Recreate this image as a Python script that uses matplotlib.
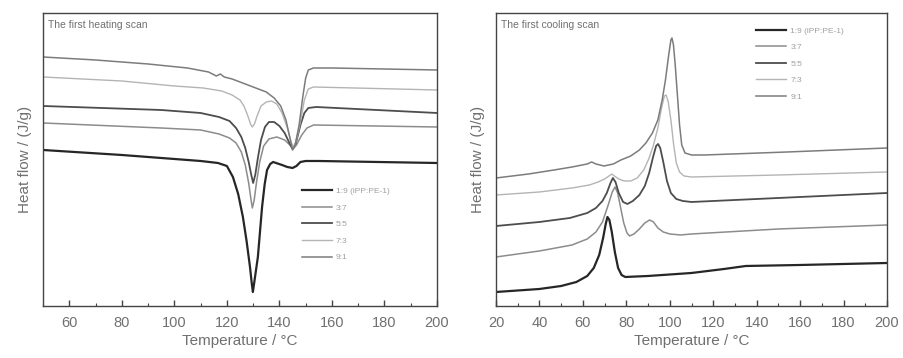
import matplotlib
matplotlib.use("Agg")
import matplotlib.pyplot as plt
from matplotlib.ticker import MultipleLocator, NullLocator

plt.rcParams['font.family'] = ['Liberation Sans', 'DejaVu Sans']

# Blend ratios (iPP:PE-1)
labels = ["1:9 (iPP:PE-1)", "3:7", "5:5", "7:3", "9:1"]
colors = ["#262626", "#8c8c8c", "#4d4d4d", "#b4b4b4", "#7c7c7c"]
widths = [1.6, 1.1, 1.3, 1.0, 1.1]

# ---- first heating scan: temperature (°C) and heat flow (offset, arb. units)
heat_T_19 = [50, 80, 100, 110, 116.6, 120, 122.3, 124.3, 126.1, 127.5, 128.8, 129.5, 129.9, 130.5,
             131.8, 133.4, 134.4, 135.3, 136.5, 137.6, 141, 143, 145, 146.5, 148, 150, 155, 200]
heat_H_19 = [1.56, 1.51, 1.47, 1.45, 1.43, 1.40, 1.29, 1.12, 0.89, 0.65, 0.39, 0.22, 0.14, 0.25,
             0.49, 0.99, 1.22, 1.36, 1.42, 1.44, 1.41, 1.39, 1.38, 1.40, 1.44, 1.45, 1.45, 1.43]

heat_T_37 = [50, 95, 110, 117, 121, 123.5, 125.5, 127, 128.3, 129.2, 129.7, 130.4, 131.3, 132.5, 134,
             136, 139, 142, 144, 145.2, 146.5, 148.5, 150.5, 153, 200]
heat_H_37 = [1.83, 1.78, 1.76, 1.72, 1.68, 1.63, 1.54, 1.41, 1.23, 1.06, 0.98, 1.06, 1.24, 1.44, 1.60,
             1.67, 1.69, 1.66, 1.61, 1.57, 1.61, 1.71, 1.78, 1.81, 1.79]

heat_T_55 = [50, 95, 110, 117, 121, 123.5, 125.5, 127, 128.3, 129.3, 130, 130.8, 131.8, 133, 134.5,
             136, 138, 140, 142, 143.8, 145, 146.3, 148, 149.5, 151, 154, 200]
heat_H_55 = [2.00, 1.96, 1.93, 1.89, 1.85, 1.78, 1.69, 1.58, 1.44, 1.31, 1.23, 1.31, 1.48, 1.66, 1.79,
             1.84, 1.84, 1.80, 1.73, 1.63, 1.57, 1.63, 1.81, 1.93, 1.98, 1.99, 1.93]

heat_T_73 = [50, 80, 100, 111, 118, 122, 125, 126.5, 128, 129, 129.7, 130.5, 131.5, 133, 135, 137, 139,
             141, 143, 144.5, 145.2, 146.3, 148, 149.5, 151, 153, 200]
heat_H_73 = [2.29, 2.25, 2.20, 2.18, 2.15, 2.11, 2.06, 2.00, 1.90, 1.82, 1.79, 1.82, 1.90, 2.00, 2.04,
             2.05, 2.02, 1.93, 1.78, 1.64, 1.59, 1.64, 1.84, 2.06, 2.17, 2.19, 2.16]

heat_T_91 = [50, 70, 90, 105, 113, 116, 117.5, 119, 122, 126, 130, 135, 138, 140.5, 142.5, 144, 145,
             146, 147.5, 149, 150, 151, 153, 160, 200]
heat_H_91 = [2.49, 2.46, 2.42, 2.38, 2.34, 2.30, 2.32, 2.29, 2.27, 2.23, 2.19, 2.14, 2.08, 2.00, 1.86,
             1.68, 1.56, 1.61, 1.81, 2.11, 2.28, 2.36, 2.38, 2.38, 2.36]

# ---- first cooling scan
cool_T_19 = [20, 40, 50, 57, 62, 65, 67.5, 69.3, 70.5, 71.3, 72.2, 73.3, 74.7, 76.2, 77.8, 79.5,
             90, 110, 125, 135, 160, 200]
cool_H_19 = [0.14, 0.17, 0.20, 0.24, 0.30, 0.38, 0.51, 0.68, 0.82, 0.89, 0.86, 0.74, 0.54, 0.38, 0.31, 0.29,
             0.30, 0.33, 0.37, 0.40, 0.41, 0.43]

cool_T_37 = [20, 40, 55, 62, 66, 69, 71.5, 73.5, 74.8, 76, 77.3, 78.8, 80.3, 81.5, 83.5, 86, 88.5,
             90.7, 92.5, 94.5, 97, 100, 105, 110, 150, 200]
cool_H_37 = [0.49, 0.55, 0.61, 0.67, 0.74, 0.84, 1.00, 1.14, 1.19, 1.13, 0.99, 0.83, 0.73, 0.70, 0.72, 0.77, 0.83,
             0.86, 0.84, 0.78, 0.74, 0.72, 0.71, 0.72, 0.77, 0.81]

cool_T_55 = [20, 40, 54, 62, 66, 69, 71, 72.7, 73.8, 75, 76.5, 78.5, 80.5, 83, 86, 88.5, 90.5, 92.3,
             93.7, 94.6, 95.6, 97, 98.7, 100.5, 103, 106, 110, 150, 200]
cool_H_55 = [0.80, 0.84, 0.88, 0.93, 0.98, 1.05, 1.13, 1.23, 1.28, 1.24, 1.13, 1.04, 1.02, 1.05, 1.11, 1.20, 1.33, 1.49,
             1.60, 1.62, 1.58, 1.44, 1.25, 1.13, 1.07, 1.05, 1.04, 1.08, 1.13]

cool_T_73 = [20, 40, 55, 63, 67, 70, 72, 73.3, 74.5, 76.5, 79, 82, 85, 88, 90.5, 92.5, 94.5, 96.2,
             97.5, 98.3, 99.3, 100.5, 101.8, 103, 104.5, 106.5, 110, 150, 200]
cool_H_73 = [1.11, 1.14, 1.18, 1.21, 1.24, 1.27, 1.30, 1.32, 1.30, 1.27, 1.25, 1.25, 1.28, 1.36, 1.48, 1.61, 1.78, 1.98,
             2.10, 2.11, 2.04, 1.86, 1.61, 1.43, 1.34, 1.30, 1.29, 1.31, 1.34]

cool_T_91 = [20, 35, 46.7, 55, 62, 64, 66, 69.7, 74, 77.5, 82, 86, 89, 92, 94.5, 96.5, 98, 99.5, 100.5,
             101, 101.7, 102.5, 103.5, 104.5, 105.5, 107, 110, 116, 154, 200]
cool_H_91 = [1.28, 1.32, 1.36, 1.39, 1.42, 1.44, 1.42, 1.40, 1.42, 1.46, 1.50, 1.56, 1.63, 1.73, 1.86, 2.06, 2.26, 2.51, 2.66,
             2.68, 2.61, 2.41, 2.11, 1.81, 1.61, 1.53, 1.51, 1.51, 1.54, 1.58]

heating = [(heat_T_19, heat_H_19), (heat_T_37, heat_H_37), (heat_T_55, heat_H_55),
           (heat_T_73, heat_H_73), (heat_T_91, heat_H_91)]
cooling = [(cool_T_19, cool_H_19), (cool_T_37, cool_H_37), (cool_T_55, cool_H_55),
           (cool_T_73, cool_H_73), (cool_T_91, cool_H_91)]

text_grey = "#707070"
frame_grey = "#444444"

fig = plt.figure(figsize=(9.04, 3.58), dpi=100)
ax1 = fig.add_axes([0.0476, 0.1453, 0.4358, 0.8184])
ax2 = fig.add_axes([0.5487, 0.1453, 0.4325, 0.8184])


def style_axes(ax, xmin, xmax):
    ax.set_xlim(xmin, xmax)
    ax.set_ylim(0, 2.93)
    ax.xaxis.set_major_locator(MultipleLocator(20))
    ax.xaxis.set_minor_locator(MultipleLocator(10))
    ax.yaxis.set_major_locator(NullLocator())
    ax.tick_params(axis='x', which='both', direction='in', top=False,
                   colors=frame_grey, labelcolor=text_grey, labelsize=10.5, pad=7)
    ax.tick_params(axis='x', which='major', length=4, width=1)
    ax.tick_params(axis='x', which='minor', length=2.5, width=0.8)
    for s in ax.spines.values():
        s.set_color(frame_grey)
        s.set_linewidth(1.0)
    ax.set_xlabel("Temperature / °C", color=text_grey, fontsize=11, labelpad=3)
    ax.set_ylabel("Heat flow / (J/g)", color=text_grey, fontsize=11, labelpad=8)


for ax, data, title, xr, leg_loc in [
        (ax1, heating, "The first heating scan", (50, 200), (0.657, 0.152)),
        (ax2, cooling, "The first cooling scan", (20, 200), (0.665, 0.70))]:
    for (T, H), lab, c, lw in zip(data, labels, colors, widths):
        ax.plot(T, H, color=c, lw=lw, label=lab, solid_joinstyle='round')
    style_axes(ax, *xr)
    ax.text(0.012, 0.975, title, transform=ax.transAxes, ha='left', va='top',
            fontsize=7.5, color=text_grey)
    leg = ax.legend(loc='lower left', bbox_to_anchor=leg_loc, frameon=False,
                    fontsize=6, handlelength=3.6, handletextpad=0.5,
                    labelspacing=1.05, borderaxespad=0, borderpad=0)
    for t in leg.get_texts():
        t.set_color("#a0a0a0")

fig.savefig("out.png", dpi=100)
